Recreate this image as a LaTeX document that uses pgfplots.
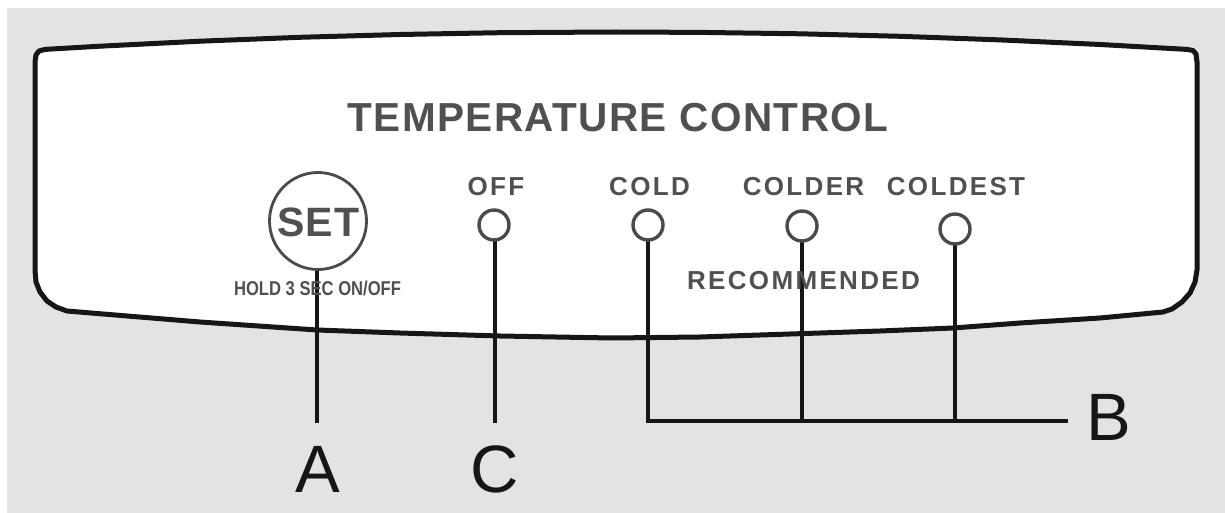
\documentclass[border=0pt]{standalone}
\usepackage{pgfplots}
\pgfplotsset{compat=1.18}
\usepackage{fontspec}
\setmainfont{Liberation Sans}
\newfontfamily\lsA[LetterSpace=3.5]{Liberation Sans}
\newfontfamily\lsB[LetterSpace=9]{Liberation Sans}
\newfontfamily\lsC[LetterSpace=2]{Liberation Sans}
\definecolor{bg}{HTML}{E3E3E3}
\definecolor{txt}{HTML}{505050}
\definecolor{ring}{HTML}{4A4A4A}
\definecolor{ink}{HTML}{161616}
\begin{document}
\begin{tikzpicture}
\begin{axis}[scale only axis, width=1225pt, height=513pt,
  xmin=0, xmax=1225, ymin=0, ymax=513, y dir=reverse,
  hide axis, clip=false]
% page background
\addplot[fill=white, draw=none] coordinates {(0,0)(1225,0)(1225,513)(0,513)} -- cycle;
\addplot[fill=bg, draw=none] coordinates {(7,8)(1225,8)(1225,513)(7,513)} -- cycle;
% panel
\addplot[fill=white, draw=ink, line width=5pt, line join=round] coordinates {
(35,62)(36,55)(39,51)(45,49.4)
(100,46.2)(200,41.2)(300,37.3)(400,34.5)(500,32.7)(616,32)(700,32.4)(800,33.8)(900,36.3)(1000,39.9)(1100,44.5)(1187,49.4)
(1193,50.5)(1196,54)(1197,62)
(1197,270)(1195,282)(1190,293)(1182,302)(1172,309)(1163,312)
(1100,318)(1020,323)(953,328)(880,331)(820,333)(700,337)(612,338)(500,336)(400,333)(317,330)(200,322)(120,315.4)(67,311)
(56,307)(47,301)(40,292)(36,282)(35,270)
} -- cycle;
% leader lines
\addplot[ink, line width=4pt] coordinates {(317,268)(317,423)};
\addplot[ink, line width=4pt] coordinates {(495,238)(495,423)};
\addplot[ink, line width=4pt] coordinates {(648,238)(648,421)};
\addplot[ink, line width=4pt] coordinates {(802,238)(802,421)};
\addplot[ink, line width=4pt] coordinates {(955,242)(955,421)};
\addplot[ink, line width=4pt] coordinates {(646,421)(1068,421)};
% indicator circles
\addplot[only marks, mark=*, mark size=15, mark options={fill=white, draw=ring, line width=3.4pt}]
  coordinates {(494,225)(648,225)(802,226)(955,229)};
% SET button
\addplot[only marks, mark=o, mark size=48.5, mark options={draw=ring, line width=2.8pt}]
  coordinates {(318,221)};
% texts
\node[anchor=base, text=txt, font={\lsA\bfseries\fontsize{40.5}{48}\selectfont}] at (axis cs:618,132) {TEMPERATURE CONTROL};
\node[anchor=base, text=txt, font={\lsC\bfseries\fontsize{41}{48}\selectfont}] at (axis cs:318.5,236) {SET};
\node[anchor=base, text=txt, xscale=0.83, font={\bfseries\fontsize{20}{24}\selectfont}] at (axis cs:317.5,295) {HOLD 3 SEC ON/OFF};
\node[anchor=base, text=txt, font={\lsB\bfseries\fontsize{26}{30}\selectfont}] at (axis cs:496,196) {OFF};
\node[anchor=base, text=txt, font={\lsB\bfseries\fontsize{26}{30}\selectfont}] at (axis cs:649.5,196) {COLD};
\node[anchor=base, text=txt, font={\lsB\bfseries\fontsize{26}{30}\selectfont}] at (axis cs:803.5,196) {COLDER};
\node[anchor=base, text=txt, font={\lsB\bfseries\fontsize{26}{30}\selectfont}] at (axis cs:956,196) {COLDEST};
\node[anchor=base, text=txt, font={\lsB\bfseries\fontsize{26}{30}\selectfont}] at (axis cs:803.5,289) {RECOMMENDED};
\node[anchor=base, text=ink, font={\fontsize{67}{80}\selectfont}] at (axis cs:317.5,492) {A};
\node[anchor=base, text=ink, font={\fontsize{67}{80}\selectfont}] at (axis cs:495,492) {C};
\node[anchor=base, text=ink, font={\fontsize{67}{80}\selectfont}] at (axis cs:1109,440) {B};
\end{axis}
\end{tikzpicture}
\end{document}
